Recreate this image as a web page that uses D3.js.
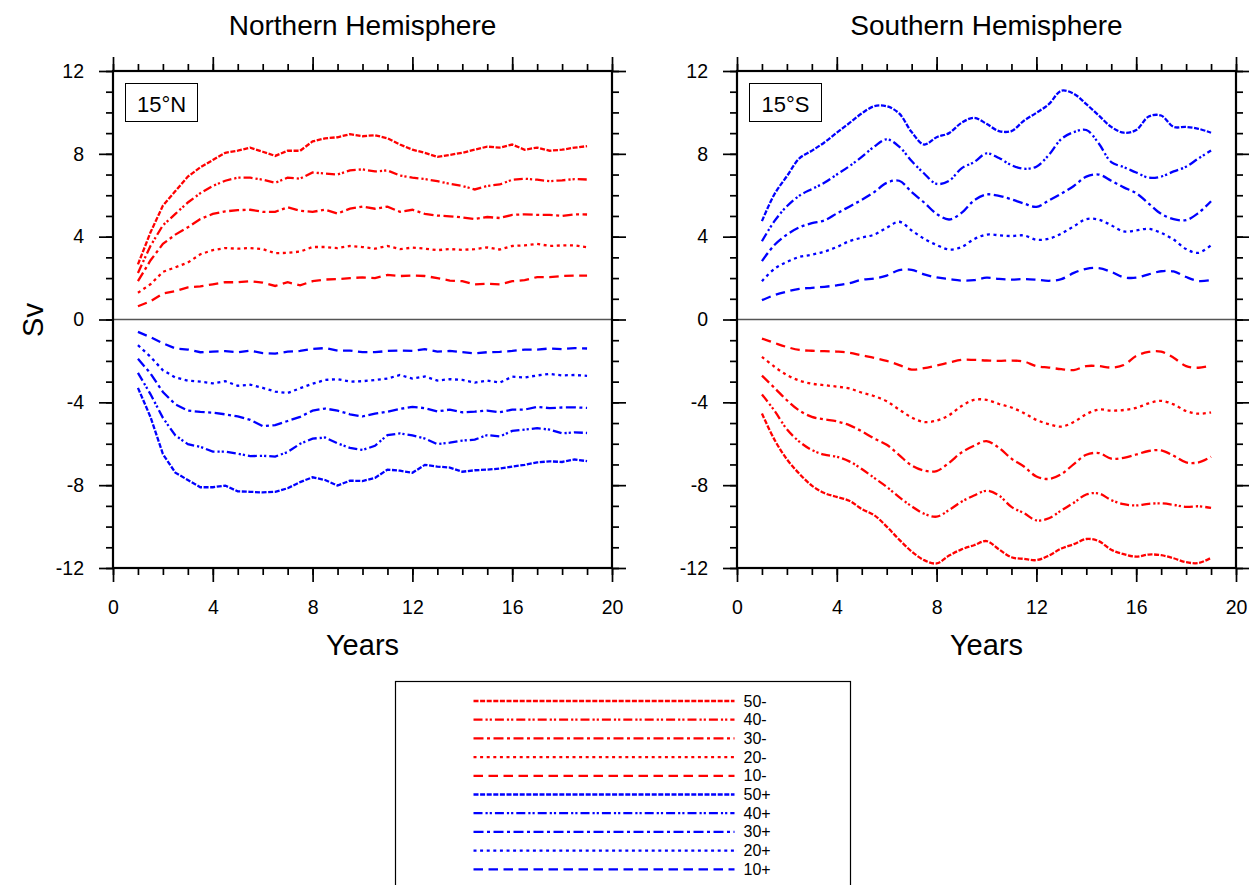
<!DOCTYPE html>
<html>
<head>
    <meta charset="utf-8">
    <script src="https://cdnjs.cloudflare.com/ajax/libs/d3/7.8.5/d3.min.js"></script>
    <style>
        body { margin: 0; background: white; }
        text { font-family: "Liberation Sans", Arial, sans-serif; }
    </style>
</head>
<body>
    <div id="chart"></div>
    <script>
        // Years sampled every half year
        const years = [1, 1.5, 2, 2.5, 3, 3.5, 4, 4.5, 5, 5.5, 6, 6.5, 7, 7.5, 8, 8.5, 9, 9.5, 10,
                       10.5, 11, 11.5, 12, 12.5, 13, 13.5, 14, 14.5, 15, 15.5, 16, 16.5, 17, 17.5, 18, 18.5, 19];

        const xTicks = [0, 4, 8, 12, 16, 20];
        const yTicks = [-12, -8, -4, 0, 4, 8, 12];

        // Northern Hemisphere, 15N
        const nh50m = [2.66, 4.2, 5.5, 6.2, 6.9, 7.35, 7.7, 8.05, 8.15, 8.3, 8.1, 7.9, 8.15, 8.15, 8.6, 8.75, 8.8, 8.95, 8.85,
                       8.9, 8.75, 8.45, 8.2, 8.05, 7.85, 7.95, 8.05, 8.2, 8.35, 8.3, 8.45, 8.2, 8.3, 8.15, 8.2, 8.3, 8.37];
        const nh40m = [2.25, 3.55, 4.55, 5.1, 5.65, 6.1, 6.45, 6.7, 6.85, 6.85, 6.75, 6.6, 6.85, 6.8, 7.1, 7.05, 7.0, 7.2, 7.25,
                       7.15, 7.2, 6.95, 6.85, 6.78, 6.68, 6.55, 6.45, 6.28, 6.45, 6.52, 6.75, 6.8, 6.75, 6.68, 6.72, 6.78, 6.76];
        const nh30m = [1.85, 2.85, 3.65, 4.1, 4.45, 4.85, 5.1, 5.22, 5.28, 5.3, 5.2, 5.2, 5.42, 5.25, 5.2, 5.3, 5.12, 5.35, 5.45,
                       5.35, 5.45, 5.2, 5.3, 5.1, 5.02, 4.98, 4.93, 4.85, 4.95, 4.9, 5.05, 5.08, 5.05, 5.05, 5.0, 5.08, 5.07];
        const nh20m = [1.29, 1.7, 2.3, 2.52, 2.75, 3.15, 3.35, 3.45, 3.42, 3.45, 3.4, 3.2, 3.22, 3.28, 3.5, 3.5, 3.45, 3.55, 3.5,
                       3.42, 3.55, 3.4, 3.47, 3.42, 3.35, 3.4, 3.36, 3.4, 3.48, 3.38, 3.55, 3.58, 3.65, 3.55, 3.58, 3.58, 3.49];
        const nh10m = [0.64, 0.88, 1.25, 1.37, 1.55, 1.6, 1.7, 1.8, 1.8, 1.85, 1.78, 1.62, 1.8, 1.65, 1.85, 1.93, 1.95, 2.0, 2.03,
                       2.0, 2.15, 2.1, 2.12, 2.1, 2.0, 1.88, 1.85, 1.7, 1.72, 1.7, 1.85, 1.9, 2.05, 2.05, 2.1, 2.12, 2.12];
        const nh50p = [-3.3, -4.7, -6.5, -7.4, -7.75, -8.1, -8.1, -8.02, -8.3, -8.32, -8.35, -8.32, -8.15, -7.85, -7.62, -7.75, -8.02, -7.78, -7.8,
                       -7.65, -7.25, -7.3, -7.4, -7.02, -7.1, -7.15, -7.35, -7.28, -7.25, -7.2, -7.1, -7.02, -6.9, -6.85, -6.88, -6.76, -6.84];
        const nh40p = [-2.58, -3.6, -4.75, -5.6, -6.02, -6.15, -6.38, -6.38, -6.48, -6.6, -6.58, -6.62, -6.4, -6.0, -5.75, -5.7, -5.98, -6.2, -6.3,
                       -6.1, -5.58, -5.5, -5.6, -5.75, -6.02, -5.95, -5.85, -5.8, -5.58, -5.65, -5.38, -5.32, -5.25, -5.32, -5.5, -5.45, -5.48];
        const nh30p = [-1.9, -2.6, -3.5, -4.1, -4.4, -4.46, -4.5, -4.58, -4.68, -4.85, -5.15, -5.1, -4.9, -4.7, -4.4, -4.3, -4.4, -4.58, -4.68,
                       -4.55, -4.45, -4.32, -4.22, -4.28, -4.44, -4.35, -4.48, -4.45, -4.4, -4.48, -4.35, -4.35, -4.22, -4.28, -4.25, -4.24, -4.27];
        const nh20p = [-1.24, -1.8, -2.45, -2.8, -2.95, -3.0, -3.08, -2.98, -3.2, -3.15, -3.3, -3.48, -3.55, -3.32, -3.1, -2.92, -2.88, -3.0, -2.98,
                       -2.92, -2.85, -2.68, -2.85, -2.75, -2.95, -2.88, -2.92, -3.05, -2.95, -3.05, -2.76, -2.8, -2.7, -2.63, -2.7, -2.68, -2.72];
        const nh10p = [-0.6, -0.85, -1.15, -1.4, -1.45, -1.58, -1.55, -1.53, -1.58, -1.5, -1.62, -1.65, -1.55, -1.52, -1.42, -1.38, -1.5, -1.5, -1.58,
                       -1.58, -1.52, -1.5, -1.52, -1.43, -1.55, -1.52, -1.58, -1.64, -1.58, -1.56, -1.52, -1.45, -1.45, -1.4, -1.43, -1.38, -1.4];

        // Southern Hemisphere, 15S
        const sh50m = [-4.54, -5.8, -6.75, -7.45, -8.02, -8.38, -8.57, -8.75, -9.15, -9.45, -10.0, -10.63, -11.2, -11.62, -11.78, -11.4, -11.1, -10.9, -10.7,
                       -11.1, -11.48, -11.56, -11.62, -11.4, -11.06, -10.85, -10.6, -10.7, -11.12, -11.33, -11.45, -11.35, -11.38, -11.53, -11.72, -11.76, -11.51];
        const sh40m = [-3.62, -4.4, -5.3, -5.9, -6.3, -6.53, -6.63, -6.85, -7.22, -7.65, -8.08, -8.58, -9.02, -9.38, -9.52, -9.2, -8.8, -8.5, -8.27,
                       -8.5, -9.05, -9.35, -9.7, -9.6, -9.22, -8.85, -8.45, -8.4, -8.72, -8.92, -8.98, -8.9, -8.88, -8.95, -9.05, -9.02, -9.1];
        const sh30m = [-2.71, -3.3, -3.9, -4.4, -4.7, -4.82, -4.92, -5.1, -5.4, -5.75, -6.05, -6.55, -7.05, -7.3, -7.32, -6.92, -6.42, -6.1, -5.87,
                       -6.2, -6.72, -7.1, -7.58, -7.7, -7.47, -6.98, -6.53, -6.45, -6.72, -6.68, -6.52, -6.35, -6.32, -6.58, -6.9, -6.9, -6.63];
        const sh20m = [-1.8, -2.28, -2.68, -2.95, -3.1, -3.17, -3.24, -3.33, -3.53, -3.7, -3.95, -4.35, -4.73, -4.95, -4.88, -4.62, -4.18, -3.88, -3.88,
                       -4.08, -4.25, -4.52, -4.85, -5.05, -5.17, -4.95, -4.57, -4.35, -4.4, -4.37, -4.27, -4.05, -3.93, -4.1, -4.42, -4.55, -4.48];
        const sh10m = [-0.92, -1.13, -1.33, -1.47, -1.51, -1.53, -1.55, -1.6, -1.73, -1.85, -2.0, -2.2, -2.42, -2.35, -2.22, -2.08, -1.95, -1.95, -1.98,
                       -2.0, -1.98, -2.03, -2.25, -2.32, -2.4, -2.44, -2.25, -2.25, -2.32, -2.2, -1.76, -1.56, -1.55, -1.85, -2.25, -2.33, -2.22];
        const sh50p = [4.75, 6.05, 6.92, 7.78, 8.15, 8.55, 9.02, 9.48, 9.95, 10.3, 10.3, 9.95, 9.05, 8.45, 8.8, 9.0, 9.5, 9.74, 9.45,
                       9.1, 9.1, 9.6, 9.98, 10.4, 11.05, 10.9, 10.4, 9.85, 9.3, 9.02, 9.15, 9.8, 9.85, 9.3, 9.3, 9.21, 9.02];
        const sh40p = [3.78, 4.75, 5.47, 5.98, 6.3, 6.6, 7.0, 7.4, 7.85, 8.35, 8.7, 8.35, 7.65, 7.05, 6.55, 6.7, 7.3, 7.6, 8.02,
                       7.8, 7.45, 7.28, 7.38, 7.95, 8.72, 9.05, 9.15, 8.5, 7.6, 7.36, 7.1, 6.85, 6.9, 7.15, 7.38, 7.78, 8.16];
        const sh30p = [2.82, 3.6, 4.1, 4.45, 4.65, 4.78, 5.12, 5.45, 5.78, 6.15, 6.6, 6.7, 6.15, 5.65, 5.1, 4.83, 5.15, 5.75, 6.04,
                       5.97, 5.8, 5.6, 5.44, 5.75, 6.08, 6.45, 6.9, 7.0, 6.7, 6.38, 6.1, 5.6, 5.1, 4.85, 4.8, 5.15, 5.71];
        const sh20p = [1.85, 2.45, 2.78, 3.02, 3.13, 3.28, 3.5, 3.78, 3.95, 4.1, 4.43, 4.72, 4.3, 3.9, 3.6, 3.38, 3.5, 3.88, 4.1,
                       4.07, 4.03, 4.06, 3.85, 3.9, 4.15, 4.5, 4.85, 4.82, 4.55, 4.25, 4.3, 4.38, 4.18, 3.86, 3.4, 3.22, 3.59];
        const sh10p = [0.93, 1.18, 1.35, 1.48, 1.53, 1.58, 1.65, 1.75, 1.92, 1.98, 2.12, 2.38, 2.4, 2.18, 2.03, 1.95, 1.88, 1.9, 2.02,
                       1.96, 1.93, 1.95, 1.92, 1.87, 1.95, 2.25, 2.45, 2.48, 2.3, 2.04, 2.02, 2.18, 2.33, 2.32, 2.05, 1.86, 1.9];

        const seriesNames = ['50-', '40-', '30-', '20-', '10-', '50+', '40+', '30+', '20+', '10+'];
        const nhSeries = [nh50m, nh40m, nh30m, nh20m, nh10m, nh50p, nh40p, nh30p, nh20p, nh10p];
        const shSeries = [sh50m, sh40m, sh30m, sh20m, sh10m, sh50p, sh40p, sh30p, sh20p, sh10p];

        const DASH = {
            '50': '5,1.6',
            '40': '9,3,2.2,2,2.2,3',
            '30': '10,3.5,3,3.5',
            '20': '3,3.6',
            '10': '9.5,5.5'
        };
        const colorOf = name => name.endsWith('-') ? '#ff0000' : '#0000ff';
        const dashOf = name => DASH[name.slice(0, 2)];

        const W = 1249, H = 885;
        const pw = 499, ph = 497;

        const svg = d3.select('#chart')
            .append('svg')
            .attr('width', W)
            .attr('height', H);

        const x = d3.scaleLinear().domain([0, 20]).range([0, pw]);
        const y = d3.scaleLinear().domain([-12, 12]).range([ph, 0]);

        function drawPanel(left, top, title, tag, series, smooth) {
            const g = svg.append('g').attr('transform', `translate(${left},${top})`);

            // zero line
            g.append('line')
                .attr('x1', 0).attr('x2', pw)
                .attr('y1', y(0)).attr('y2', y(0))
                .attr('stroke', '#555').attr('stroke-width', 1.3);

            const line = d3.line()
                .x((d, i) => x(years[i]))
                .y(d => y(d))
                .curve(smooth ? d3.curveCatmullRom.alpha(0.5) : d3.curveLinear);

            series.forEach((vals, i) => {
                const name = seriesNames[i];
                g.append('path')
                    .datum(vals)
                    .attr('d', line)
                    .attr('fill', 'none')
                    .attr('stroke', colorOf(name))
                    .attr('stroke-width', 2.3)
                    .attr('stroke-dasharray', dashOf(name));
            });

            // minor ticks every unit, outward on all four sides
            const minorX = d3.range(0, 21, 1);
            const minorY = d3.range(-12, 13, 1);
            const gens = [d3.axisBottom(x), d3.axisTop(x), d3.axisLeft(y), d3.axisRight(y)];
            const shifts = [`translate(0,${ph})`, 'translate(0,0)', 'translate(0,0)', `translate(${pw},0)`];
            gens.forEach((ax, k) => {
                g.append('g').attr('transform', shifts[k])
                    .call(ax.tickValues(k < 2 ? minorX : minorY).tickSize(7).tickFormat(''))
                    .call(s => s.select('.domain').remove());
            });

            // major ticks with labels on bottom and left
            const majors = [d3.axisBottom(x), d3.axisTop(x), d3.axisLeft(y), d3.axisRight(y)];
            majors.forEach((ax, k) => {
                const labels = k === 0 || k === 2;
                const a = g.append('g').attr('transform', shifts[k])
                    .call(ax.tickValues(k < 2 ? xTicks : yTicks).tickSize(14)
                        .tickPadding(k === 0 ? 18 : 15)
                        .tickFormat(labels ? (d => String(d)) : ''));
                a.select('.domain').remove();
                a.selectAll('text')
                    .style('font-size', '19.5px')
                    .style('font-family', '"Liberation Sans", Arial, sans-serif')
                    .attr('fill', '#000');
            });
            g.selectAll('.tick line').attr('stroke', '#000').attr('stroke-width', 1.7);

            // frame
            g.append('rect')
                .attr('width', pw).attr('height', ph)
                .attr('fill', 'none')
                .attr('stroke', '#000').attr('stroke-width', 2.2);

            // latitude tag
            g.append('rect')
                .attr('x', 12.5).attr('y', 12.5)
                .attr('width', 72).attr('height', 38)
                .attr('fill', 'white')
                .attr('stroke', '#000').attr('stroke-width', 1);
            g.append('text')
                .attr('x', 48.5).attr('y', 40.5)
                .attr('text-anchor', 'middle')
                .style('font-size', '22px')
                .text(tag);

            // title
            g.append('text')
                .attr('x', pw / 2).attr('y', -36)
                .attr('text-anchor', 'middle')
                .style('font-size', '28px')
                .text(title);

            // x label
            g.append('text')
                .attr('x', pw / 2).attr('y', ph + 87)
                .attr('text-anchor', 'middle')
                .style('font-size', '29px')
                .text('Years');
        }

        drawPanel(113, 71, 'Northern Hemisphere', '15\u00B0N', nhSeries, false);
        drawPanel(737, 71, 'Southern Hemisphere', '15\u00B0S', shSeries, true);

        // y label
        svg.append('text')
            .attr('transform', 'translate(43,320) rotate(-90)')
            .attr('text-anchor', 'middle')
            .style('font-size', '29px')
            .text('Sv');

        // legend
        const legend = svg.append('g').attr('transform', 'translate(395.5,681.5)');
        legend.append('rect')
            .attr('width', 455).attr('height', 240)
            .attr('fill', 'none')
            .attr('stroke', '#000').attr('stroke-width', 1.2);

        seriesNames.forEach((name, i) => {
            const ly = 19.5 + i * 18.7;
            legend.append('line')
                .attr('x1', 78).attr('x2', 339)
                .attr('y1', ly).attr('y2', ly)
                .attr('stroke', colorOf(name))
                .attr('stroke-width', 2.3)
                .attr('stroke-dasharray', dashOf(name));
            legend.append('text')
                .attr('x', 348).attr('y', ly + 5.5)
                .style('font-size', '16px')
                .text(name);
        });
    </script>
</body>
</html>
